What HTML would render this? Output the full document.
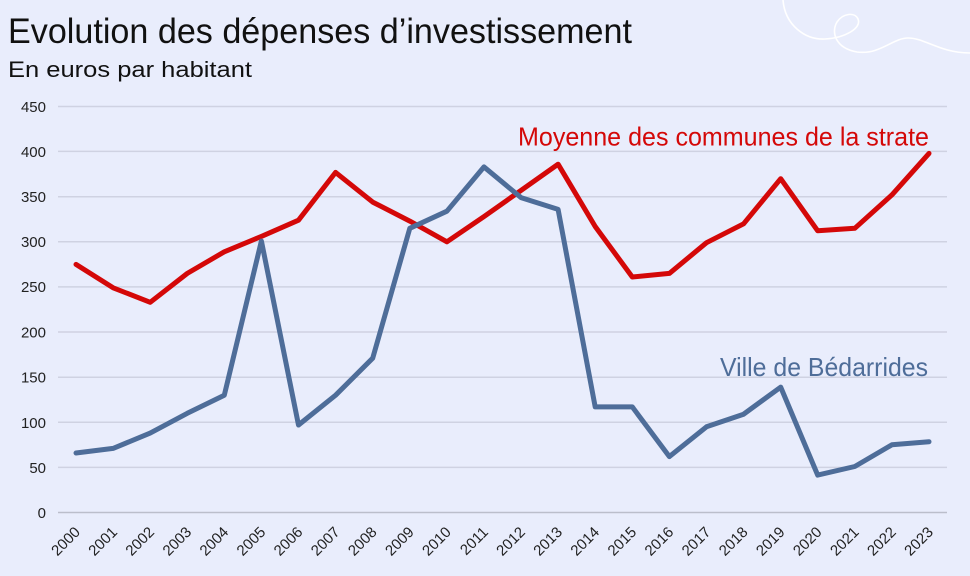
<!DOCTYPE html>
<html><head><meta charset="utf-8"><style>
html,body{margin:0;padding:0;background:#E9EDFC;}
svg{display:block;}
text{font-family:"Liberation Sans",sans-serif;}
</style></head><body>
<svg width="970" height="576" viewBox="0 0 970 576" xmlns="http://www.w3.org/2000/svg">
<rect width="970" height="576" fill="#E9EDFC"/>
<path d="M783,0 C785,25 805,40 825,39 C845,38 862,28 858,19 C855,12 843,13 837,22 C831,32 835,48 857,52 C880,55 893,38 908,38 C925,38 940,53 970,53" fill="none" stroke="#FFFFFF" stroke-width="1.6"/>
<text x="8" y="43" font-size="35" fill="#111" textLength="624" lengthAdjust="spacingAndGlyphs">Evolution des dépenses d’investissement</text>
<text x="8" y="77" font-size="22" fill="#111" textLength="244" lengthAdjust="spacingAndGlyphs">En euros par habitant</text>
<g stroke="#CFD2E2" stroke-width="1.5">
<line x1="58" x2="947" y1="106.5" y2="106.5"/>
<line x1="58" x2="947" y1="151.4" y2="151.4"/>
<line x1="58" x2="947" y1="196.7" y2="196.7"/>
<line x1="58" x2="947" y1="241.8" y2="241.8"/>
<line x1="58" x2="947" y1="286.9" y2="286.9"/>
<line x1="58" x2="947" y1="332" y2="332"/>
<line x1="58" x2="947" y1="377.2" y2="377.2"/>
<line x1="58" x2="947" y1="422.3" y2="422.3"/>
<line x1="58" x2="947" y1="467.4" y2="467.4"/>
</g>
<line x1="58" x2="947" y1="512.5" y2="512.5" stroke="#BBBECB" stroke-width="1.5"/>
<g font-size="15" fill="#222" text-anchor="end">
<text x="46" y="112">450</text>
<text x="46" y="157">400</text>
<text x="46" y="202">350</text>
<text x="46" y="247">300</text>
<text x="46" y="292">250</text>
<text x="46" y="337.5">200</text>
<text x="46" y="382.5">150</text>
<text x="46" y="428">100</text>
<text x="46" y="473">50</text>
<text x="46" y="518">0</text>
</g>
<g font-size="15" fill="#222" text-anchor="end">
<text transform="translate(81,533) rotate(-45)">2000</text>
<text transform="translate(118.1,533) rotate(-45)">2001</text>
<text transform="translate(155.2,533) rotate(-45)">2002</text>
<text transform="translate(192.3,533) rotate(-45)">2003</text>
<text transform="translate(229.3,533) rotate(-45)">2004</text>
<text transform="translate(266.4,533) rotate(-45)">2005</text>
<text transform="translate(303.5,533) rotate(-45)">2006</text>
<text transform="translate(340.6,533) rotate(-45)">2007</text>
<text transform="translate(377.7,533) rotate(-45)">2008</text>
<text transform="translate(414.8,533) rotate(-45)">2009</text>
<text transform="translate(451.9,533) rotate(-45)">2010</text>
<text transform="translate(489,533) rotate(-45)">2011</text>
<text transform="translate(526,533) rotate(-45)">2012</text>
<text transform="translate(563.1,533) rotate(-45)">2013</text>
<text transform="translate(600.2,533) rotate(-45)">2014</text>
<text transform="translate(637.3,533) rotate(-45)">2015</text>
<text transform="translate(674.4,533) rotate(-45)">2016</text>
<text transform="translate(711.5,533) rotate(-45)">2017</text>
<text transform="translate(748.6,533) rotate(-45)">2018</text>
<text transform="translate(785.7,533) rotate(-45)">2019</text>
<text transform="translate(822.7,533) rotate(-45)">2020</text>
<text transform="translate(859.8,533) rotate(-45)">2021</text>
<text transform="translate(896.9,533) rotate(-45)">2022</text>
<text transform="translate(934,533) rotate(-45)">2023</text>
</g>
<polyline fill="none" stroke="#D40808" stroke-width="5" stroke-linejoin="round" stroke-linecap="round" points="76,264.4 113.1,287.8 150.2,302.3 187.3,273.4 224.3,251.8 261.4,236.4 298.5,220.2 335.6,172.4 372.7,202.1 409.8,221.1 446.9,241.8 484,216.6 521,190.4 558.1,164.2 595.2,226.5 632.3,277 669.4,273.4 706.5,242.7 743.6,223.8 780.7,178.7 817.7,230.8 854.8,228.3 891.9,194.9 929,153.4"/>
<polyline fill="none" stroke="#4E6D99" stroke-width="5" stroke-linejoin="round" stroke-linecap="round" points="76,453 113.1,448.4 150.2,433.1 187.3,413.3 224.3,395.2 261.4,241 298.5,425 335.6,395.2 372.7,358.2 409.8,228.3 446.9,211.2 484,166.9 521,197.6 558.1,209.4 595.2,406.9 632.3,406.9 669.4,456.6 706.5,426.8 743.6,414.2 780.7,387.1 817.7,475.1 854.8,466.5 891.9,444.8 929,441.7"/>
<text x="518" y="145.5" font-size="26" fill="#D40808" textLength="411" lengthAdjust="spacingAndGlyphs">Moyenne des communes de la strate</text>
<text x="720" y="376" font-size="26" fill="#4E6D99" textLength="208" lengthAdjust="spacingAndGlyphs">Ville de Bédarrides</text>
</svg>
</body></html>
